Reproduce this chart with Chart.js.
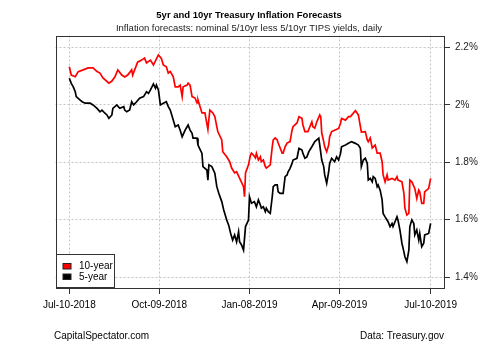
<!DOCTYPE html>
<html>
<head>
<meta charset="utf-8">
<script src="https://cdn.jsdelivr.net/npm/chart.js@4.4.1/dist/chart.umd.min.js"></script>
<style>
  html, body { margin: 0; padding: 0; background: #fff; }
  canvas { display: block; }
</style>
</head>
<body>
<canvas id="chart" width="500" height="346"></canvas>
<script>
// days since Jul-10-2018 and yields (%)
const tenDays = [
  0, 2, 6, 9, 14, 19, 24, 28, 31, 34,
  40, 43, 46, 49, 53, 56, 59, 63, 64, 69,
  73, 76, 78, 82, 85, 89, 90, 93, 95, 98,
  100, 102, 105, 107, 110, 112, 114, 115, 119, 120,
  122, 124, 127, 129, 130, 132, 134, 137, 140, 141,
  142, 145, 147, 150, 154, 155, 159, 162, 164, 167,
  169, 172, 176, 177, 178, 181, 183, 184, 186, 188,
  189, 191, 193, 194, 196, 198, 199, 201, 203, 205,
  206, 208, 210, 211, 213, 215, 216, 218, 220, 223,
  225, 226, 230, 232, 235, 236, 238, 241, 243, 245,
  246, 248, 250, 253, 254, 255, 257, 258, 260, 262,
  263, 265, 268, 272, 274, 275, 279, 282, 284, 289,
  292, 295, 299, 301, 302, 304, 306, 309, 311, 314,
  316, 317, 319, 321, 322, 326, 329, 331, 332, 336,
  338, 339, 341, 343, 344, 346, 349, 351, 353, 354,
  356, 358, 359, 363, 365
];
const tenYear = [
  2.133, 2.104, 2.098, 2.116, 2.122, 2.129, 2.129, 2.116, 2.111, 2.094,
  2.076, 2.083, 2.097, 2.122, 2.104, 2.097, 2.104, 2.122, 2.104, 2.149,
  2.156, 2.163, 2.146, 2.156, 2.139, 2.167, 2.174, 2.162, 2.139, 2.133,
  2.111, 2.116, 2.098, 2.063, 2.063, 2.069, 2.029, 2.063, 2.069, 2.076,
  2.069, 2.029, 2.024, 2.007, 2.017, 1.994, 1.972, 1.972, 1.915, 1.950,
  1.982, 1.972, 1.959, 1.907, 1.878, 1.837, 1.819, 1.802, 1.780, 1.763,
  1.767, 1.745, 1.715, 1.680, 1.763, 1.791, 1.825, 1.832, 1.825, 1.815,
  1.831, 1.808, 1.819, 1.802, 1.808, 1.785, 1.780, 1.785, 1.791, 1.854,
  1.878, 1.885, 1.878, 1.867, 1.850, 1.832, 1.832, 1.854, 1.867, 1.872,
  1.912, 1.924, 1.937, 1.959, 1.953, 1.930, 1.907, 1.907, 1.924, 1.941,
  1.924, 1.919, 1.941, 1.965, 1.959, 1.902, 1.872, 1.854, 1.837, 1.860,
  1.889, 1.907, 1.912, 1.918, 1.936, 1.953, 1.947, 1.959, 1.959, 1.980,
  1.965, 1.905, 1.907, 1.878, 1.872, 1.885, 1.850, 1.860, 1.832, 1.832,
  1.802, 1.756, 1.732, 1.756, 1.738, 1.744, 1.738, 1.750, 1.738, 1.732,
  1.692, 1.640, 1.616, 1.622, 1.738, 1.732, 1.709, 1.674, 1.703, 1.697,
  1.657, 1.657, 1.697, 1.709, 1.744
];
const fiveDays = [
  0, 2, 4, 6, 7, 11, 13, 16, 21, 24,
  28, 31, 33, 36, 38, 40, 43, 44, 48, 51,
  55, 56, 58, 61, 63, 65, 68, 71, 75, 78,
  80, 82, 85, 87, 88, 90, 92, 95, 98, 100,
  102, 105, 107, 110, 112, 114, 117, 119, 120, 122,
  124, 125, 129, 130, 134, 135, 139, 140, 141, 144,
  147, 149, 151, 154, 156, 159, 161, 163, 165, 167,
  169, 171, 172, 174, 176, 178, 181, 182, 184, 187,
  189, 191, 193, 194, 196, 198, 199, 201, 203, 205,
  206, 208, 210, 211, 213, 216, 218, 220, 221, 223,
  225, 226, 230, 232, 235, 236, 238, 240, 242, 245,
  248, 250, 252, 253, 255, 257, 258, 260, 262, 263,
  265, 268, 270, 272, 274, 275, 279, 282, 285, 289,
  292, 294, 295, 297, 299, 301, 302, 304, 306, 307,
  309, 311, 312, 314, 316, 317, 319, 322, 324, 326,
  327, 329, 331, 332, 334, 336, 338, 339, 341, 343,
  344, 346, 348, 349, 351, 353, 354, 356, 358, 359,
  363, 365
];
const fiveYear = [
  2.093, 2.075, 2.063, 2.046, 2.029, 2.017, 2.011, 2.006, 2.006, 2.000,
  1.988, 1.976, 1.982, 1.971, 1.965, 1.953, 1.965, 1.988, 2.000, 1.988,
  1.994, 1.982, 1.976, 1.982, 2.011, 2.000, 2.011, 2.023, 2.029, 2.046,
  2.040, 2.052, 2.073, 2.058, 2.069, 2.052, 2.000, 2.006, 2.011, 1.994,
  1.982, 1.947, 1.924, 1.930, 1.912, 1.889, 1.912, 1.924, 1.930, 1.912,
  1.901, 1.884, 1.884, 1.860, 1.831, 1.785, 1.773, 1.738, 1.791, 1.785,
  1.762, 1.715, 1.692, 1.663, 1.634, 1.599, 1.581, 1.552, 1.529, 1.547,
  1.523, 1.558, 1.523, 1.512, 1.494, 1.576, 1.599, 1.680, 1.657, 1.663,
  1.645, 1.669, 1.651, 1.640, 1.645, 1.628, 1.640, 1.628, 1.622, 1.680,
  1.715, 1.721, 1.721, 1.697, 1.692, 1.692, 1.750, 1.756, 1.767, 1.779,
  1.796, 1.808, 1.814, 1.849, 1.843, 1.831, 1.814, 1.819, 1.837, 1.854,
  1.872, 1.878, 1.884, 1.860, 1.808, 1.785, 1.756, 1.727, 1.767, 1.796,
  1.814, 1.802, 1.819, 1.808, 1.831, 1.854, 1.860, 1.866, 1.872, 1.866,
  1.860, 1.849, 1.785, 1.808, 1.814, 1.796, 1.738, 1.744, 1.732, 1.750,
  1.744, 1.715, 1.721, 1.703, 1.669, 1.622, 1.610, 1.593, 1.576, 1.587,
  1.576, 1.593, 1.610, 1.599, 1.564, 1.518, 1.488, 1.471, 1.454, 1.494,
  1.576, 1.599, 1.587, 1.547, 1.564, 1.529, 1.552, 1.506, 1.518, 1.547,
  1.552, 1.587
];

const tickDays = [0, 91, 182, 273, 365];
const tickLabels = ['Jul-10-2018', 'Oct-09-2018', 'Jan-08-2019', 'Apr-09-2019', 'Jul-10-2019'];
const yTicks = [1.4, 1.6, 1.8, 2.0, 2.2];
const yTickLabels = ['1.4%', '1.6%', '1.8%', '2%', '2.2%'];

const FONT = '"Liberation Sans", Arial, sans-serif';

// box, titles, legend and footer
const frame = {
  id: 'frame',
  afterDraw(chart) {
    const ctx = chart.ctx;
    const a = chart.chartArea;
    ctx.save();
    ctx.strokeStyle = '#333';
    ctx.lineWidth = 1;
    ctx.strokeRect(Math.round(a.left) + 0.5, Math.round(a.top) + 0.5,
      Math.round(a.right - a.left) - 1, Math.round(a.bottom - a.top) - 1);

    ctx.fillStyle = '#000';
    ctx.textAlign = 'center';
    ctx.textBaseline = 'middle';
    ctx.font = 'bold 9.5px ' + FONT;
    ctx.fillText('5yr and 10yr Treasury Inflation Forecasts', 249, 15);
    ctx.fillStyle = '#222';
    ctx.font = '9.5px ' + FONT;
    ctx.fillText('Inflation forecasts: nominal 5/10yr less 5/10yr TIPS yields, daily', 249, 28.5);

    ctx.font = '10px ' + FONT;
    ctx.fillStyle = '#000';
    ctx.textAlign = 'left';
    ctx.fillText('CapitalSpectator.com', 54, 336.5);
    ctx.textAlign = 'right';
    ctx.fillText('Data: Treasury.gov', 444, 336.5);

    // legend
    const lx = Math.round(a.left) + 0.5, ly = 254.5;
    ctx.fillStyle = '#fff';
    ctx.fillRect(lx, ly, 58, Math.round(a.bottom) - ly);
    ctx.strokeStyle = '#333';
    ctx.strokeRect(lx, ly, 58, Math.round(a.bottom) - ly - 0.5);
    chart.data.datasets.forEach((ds, i) => {
      const y = 263.5 + i * 10.5;
      ctx.fillStyle = ds.borderColor;
      ctx.fillRect(63, y, 8, 5.5);
      ctx.strokeStyle = '#222';
      ctx.strokeRect(63, y, 8, 5.5);
      ctx.fillStyle = '#000';
      ctx.textAlign = 'left';
      ctx.font = '10px ' + FONT;
      ctx.fillText(ds.label, 79, y + 3);
    });
    ctx.restore();
  }
};

new Chart(document.getElementById('chart'), {
  type: 'line',
  data: {
    datasets: [
      {
        label: '10-year',
        data: tenDays.map((d, i) => ({ x: d, y: tenYear[i] })),
        borderColor: '#ff0000',
        borderWidth: 1.7,
        pointRadius: 0,
        tension: 0
      },
      {
        label: '5-year',
        data: fiveDays.map((d, i) => ({ x: d, y: fiveYear[i] })),
        borderColor: '#000000',
        borderWidth: 1.7,
        pointRadius: 0,
        tension: 0
      }
    ]
  },
  options: {
    responsive: false,
    animation: false,
    events: [],
    layout: { padding: { left: 55.5, top: 35.5, right: 0, bottom: 0 } },
    plugins: { legend: { display: false }, tooltip: { enabled: false } },
    scales: {
      x: {
        type: 'linear',
        min: -13.94,
        max: 378.5,
        afterBuildTicks: s => { s.ticks = tickDays.map(v => ({ value: v })); },
        afterFit: s => { s.height = 58; },
        ticks: {
          callback: (v, i) => tickLabels[i],
          color: '#000',
          font: { family: FONT, size: 10 },
          padding: 5,
          maxRotation: 0,
          autoSkip: false
        },
        grid: { color: '#c4c4c4', lineWidth: 1, tickLength: 6, tickColor: '#333', tickWidth: 1 },
        border: { display: false, dash: [2, 2] }
      },
      y: {
        position: 'right',
        min: 1.362,
        max: 2.2418,
        afterBuildTicks: s => { s.ticks = yTicks.map(v => ({ value: v })); },
        afterFit: s => { s.width = 56; },
        ticks: {
          callback: (v, i) => yTickLabels[i],
          color: '#222',
          font: { family: FONT, size: 10 },
          padding: 5,
          autoSkip: false
        },
        grid: { color: '#c4c4c4', lineWidth: 1, tickLength: 6, tickColor: '#333', tickWidth: 1 },
        border: { display: false, dash: [2, 2] }
      }
    }
  },
  plugins: [frame]
});
</script>
</body>
</html>
